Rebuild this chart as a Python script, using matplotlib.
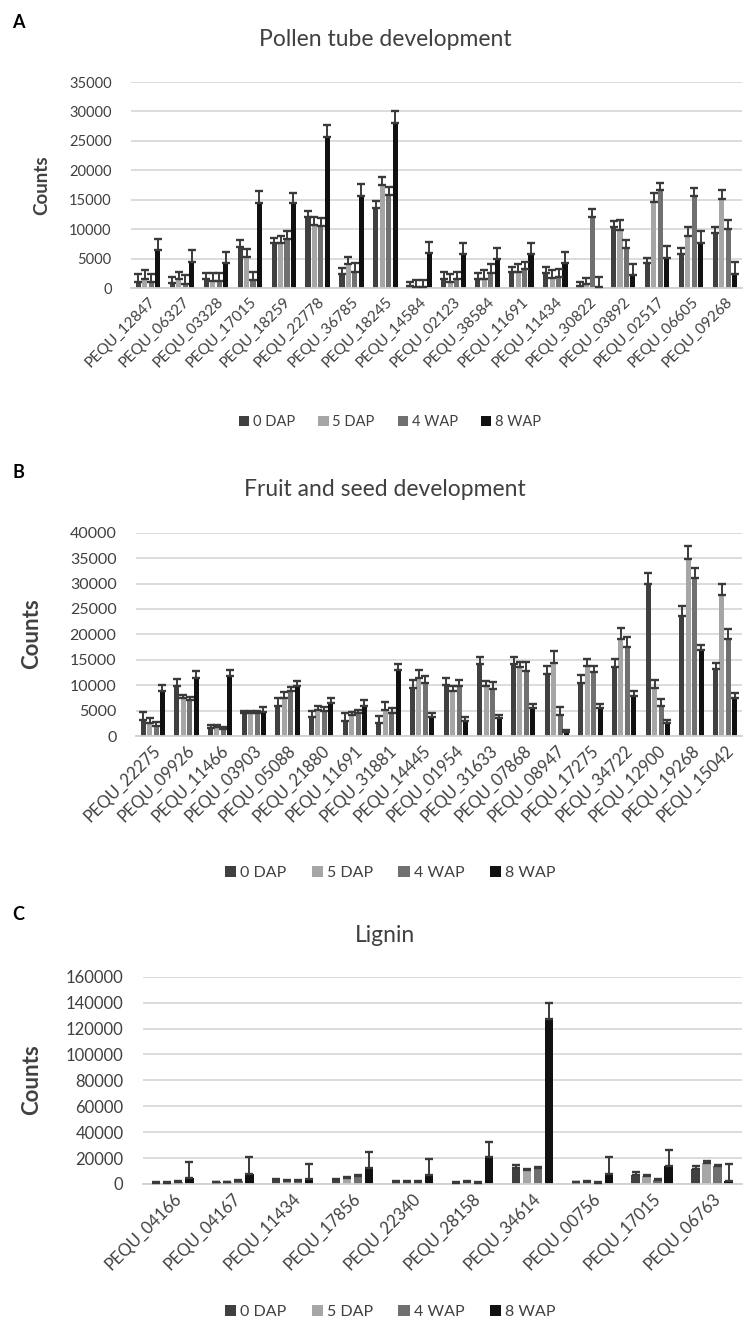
import numpy as np
import matplotlib
matplotlib.use('Agg')
import matplotlib.pyplot as plt

plt.rcParams['font.family'] = ['Lato', 'DejaVu Sans']

# series names and colours
series = ['0 DAP', '5 DAP', '4 WAP', '8 WAP']
colors = ['#404040', '#a6a6a6', '#707070', '#111111']

# Panel A - pollen tube development
a_genes = ['PEQU_12847', 'PEQU_06327', 'PEQU_03328', 'PEQU_17015', 'PEQU_18259', 'PEQU_22778',
           'PEQU_36785', 'PEQU_18245', 'PEQU_14584', 'PEQU_02123', 'PEQU_38584', 'PEQU_11691',
           'PEQU_11434', 'PEQU_30822', 'PEQU_03892', 'PEQU_02517', 'PEQU_06605', 'PEQU_09268']
a_dap0 = [1100, 850, 1500, 7000, 7600, 12000, 2400, 13600, 300, 1600, 1600, 2700, 2600, 300, 10300, 4300, 5800, 9300]
a_dap0_err = [1200, 1050, 1100, 1100, 900, 1100, 1000, 1100, 800, 1100, 1000, 900, 1000, 800, 1100, 800, 1000, 1100]
a_dap5 = [1600, 1500, 1250, 5300, 7600, 10700, 4000, 17500, 200, 1000, 1600, 2700, 1700, 600, 9900, 14600, 8900, 15200]
a_dap5_err = [1500, 1200, 1350, 1300, 1200, 1300, 1300, 1400, 1200, 1400, 1400, 1300, 1400, 1100, 1600, 1500, 1500, 1400]
a_wap4 = [1100, 700, 1250, 1300, 8400, 10500, 2800, 15800, 200, 1500, 2600, 3200, 1800, 12000, 6800, 16600, 15600, 10100]
a_wap4_err = [1300, 1500, 1350, 1400, 1300, 1400, 1500, 1400, 1200, 1300, 1400, 1300, 1400, 1500, 1400, 1300, 1400, 1400]
a_wap8 = [6400, 4500, 4300, 14400, 14400, 25700, 15600, 28100, 6000, 5800, 5000, 5800, 4300, 200, 2200, 5100, 7700, 2400]
a_wap8_err = [2000, 2000, 1800, 2000, 1800, 2000, 2000, 1900, 1800, 1900, 1800, 1900, 1800, 1600, 1800, 2100, 2000, 2000]

# Panel B - fruit and seed development
b_genes = ['PEQU_22275', 'PEQU_09926', 'PEQU_11466', 'PEQU_03903', 'PEQU_05088', 'PEQU_21880',
           'PEQU_11691', 'PEQU_31881', 'PEQU_14445', 'PEQU_01954', 'PEQU_31633', 'PEQU_07868',
           'PEQU_08947', 'PEQU_17275', 'PEQU_34722', 'PEQU_12900', 'PEQU_19268', 'PEQU_15042']
b_dap0 = [3200, 9800, 1500, 4500, 6000, 3800, 3000, 2500, 9500, 10000, 14200, 14200, 12200, 10500, 13500, 30000, 23600, 13200]
b_dap0_err = [1500, 1500, 600, 400, 1500, 1200, 1500, 1500, 1500, 1500, 1400, 1300, 1600, 1600, 1600, 2100, 2000, 1200]
b_dap5 = [2600, 7500, 1800, 4500, 7500, 5200, 4200, 5200, 11500, 8800, 9800, 13500, 14300, 13700, 19000, 9500, 34800, 27800]
b_dap5_err = [1000, 500, 400, 400, 1200, 800, 600, 1500, 1500, 1000, 1000, 1100, 2500, 1500, 2200, 1500, 2500, 2200]
b_wap4 = [2000, 7000, 1300, 4500, 8800, 5000, 4500, 4500, 10500, 9800, 9200, 12800, 4200, 12500, 17500, 6000, 31000, 19000]
b_wap4_err = [800, 700, 500, 500, 900, 800, 700, 1000, 1400, 1200, 1500, 1700, 1600, 1300, 1900, 1200, 2100, 2000]
b_wap8 = [8800, 11500, 11800, 4800, 9800, 6500, 6000, 13000, 3800, 3000, 3500, 5500, 800, 5500, 7800, 2500, 16900, 7500]
b_wap8_err = [1300, 1200, 1200, 1000, 1000, 900, 1100, 1200, 700, 800, 700, 800, 400, 700, 1000, 700, 1100, 900]

# Panel C - lignin
c_genes = ['PEQU_04166', 'PEQU_04167', 'PEQU_11434', 'PEQU_17856', 'PEQU_22340',
           'PEQU_28158', 'PEQU_34614', 'PEQU_00756', 'PEQU_17015', 'PEQU_06763']
c_dap0 = [800, 1200, 3100, 3100, 1500, 800, 12300, 1500, 7200, 11500]
c_dap0_err = [400, 400, 1000, 1000, 500, 400, 2100, 400, 1800, 2100]
c_dap5 = [800, 1200, 2100, 4400, 1500, 1500, 11000, 1500, 5900, 16200]
c_dap5_err = [400, 500, 700, 800, 500, 500, 800, 500, 1300, 1200]
c_wap4 = [1600, 2600, 2100, 6500, 1500, 800, 12000, 1000, 2800, 13600]
c_wap4_err = [400, 600, 700, 800, 500, 400, 1100, 300, 1000, 1300]
c_wap8 = [4400, 7500, 3600, 12200, 6900, 20500, 127700, 7700, 13600, 2600]
c_wap8_err = [12500, 13000, 12000, 12200, 12600, 12300, 12000, 12800, 12800, 12800]

W, H = 745, 1326
fig = plt.figure(figsize=(W / 100, H / 100), dpi=100)


def px_axes(left, right, top, bottom):
    return fig.add_axes([left / W, 1 - bottom / H, (right - left) / W, (bottom - top) / H])


def draw_panel(ax, genes, vals, errs, ymax, ystep, step, width, tick_fs, label_fs):
    x = np.arange(len(genes))
    offsets = (np.arange(4) - 1.5) * step
    for k in range(4):
        v = np.array(vals[k])
        e = np.array(errs[k])
        ax.bar(x + offsets[k], v, width, color=colors[k], label=series[k], zorder=2)
        ax.errorbar(x + offsets[k], v, yerr=[np.zeros_like(e), e], fmt='none',
                    ecolor='#3a3a3a', elinewidth=1.4, capsize=3.2, capthick=1.7, zorder=3)
    ax.set_xlim(-0.5, len(genes) - 0.5)
    ax.set_ylim(0, ymax)
    ax.set_yticks(np.arange(0, ymax + 1, ystep))
    ax.yaxis.grid(True, color='#d9d9d9', linewidth=1.3, zorder=0)
    ax.set_axisbelow(True)
    for s in ['top', 'right', 'left']:
        ax.spines[s].set_visible(False)
    ax.spines['bottom'].set_color('#d0d0d0')
    ax.spines['bottom'].set_linewidth(1.3)
    ax.tick_params(length=0, colors='#404040', labelsize=tick_fs)
    ax.tick_params(axis='y', pad=14)
    ax.tick_params(axis='x', pad=5)
    ax.set_xticks(x)
    ax.set_xticklabels(genes, rotation=45, ha='right', rotation_mode='anchor',
                       fontsize=label_fs, color='#404040')


# Panel A
axA = px_axes(131, 742, 82, 288)
draw_panel(axA, a_genes, [a_dap0, a_dap5, a_wap4, a_wap8],
           [a_dap0_err, a_dap5_err, a_wap4_err, a_wap8_err], 35000, 5000, 0.19, 0.15, 10.5, 11)
fig.text(385 / W, 1 - 40 / H, 'Pollen tube development', ha='center', va='center', fontsize=16.5, color='#404040')
fig.text(12 / W, 1 - 22 / H, 'A', ha='left', va='center', fontsize=13, fontweight='bold')
fig.text(42 / W, 1 - 185 / H, 'Counts', rotation=90, ha='center', va='center', fontsize=13.5, fontweight='bold', color='#404040')

# Panel B
axB = px_axes(136, 742, 532.7, 736)
draw_panel(axB, b_genes, [b_dap0, b_dap5, b_wap4, b_wap8],
           [b_dap0_err, b_dap5_err, b_wap4_err, b_wap8_err], 40000, 5000, 0.19, 0.15, 11.5, 12)
fig.text(385 / W, 1 - 490 / H, 'Fruit and seed development', ha='center', va='center', fontsize=16.5, color='#404040')
fig.text(12 / W, 1 - 472 / H, 'B', ha='left', va='center', fontsize=13, fontweight='bold')
fig.text(32 / W, 1 - 634 / H, 'Counts', rotation=90, ha='center', va='center', fontsize=16, fontweight='bold', color='#404040')

# Panel C
axC = px_axes(143, 742, 976.7, 1184)
draw_panel(axC, c_genes, [c_dap0, c_dap5, c_wap4, c_wap8],
           [c_dap0_err, c_dap5_err, c_wap4_err, c_wap8_err], 160000, 20000, 0.184, 0.14, 12, 12)
fig.text(385 / W, 1 - 935 / H, 'Lignin', ha='center', va='center', fontsize=16.5, color='#404040')
fig.text(12 / W, 1 - 915 / H, 'C', ha='left', va='center', fontsize=13, fontweight='bold')
fig.text(32 / W, 1 - 1080 / H, 'Counts', rotation=90, ha='center', va='center', fontsize=16, fontweight='bold', color='#404040')

# legends
handles, labels = axA.get_legend_handles_labels()
for ypix, fs in [(422, 10.5), (873, 11.5), (1312, 11.5)]:
    fig.legend(handles, labels, loc='center', bbox_to_anchor=(390 / W, 1 - ypix / H), ncol=4,
               frameon=False, fontsize=fs, handlelength=0.7, handleheight=0.7,
               handletextpad=0.25, columnspacing=1.6, labelcolor='#404040')

fig.savefig('out.png', dpi=100)
